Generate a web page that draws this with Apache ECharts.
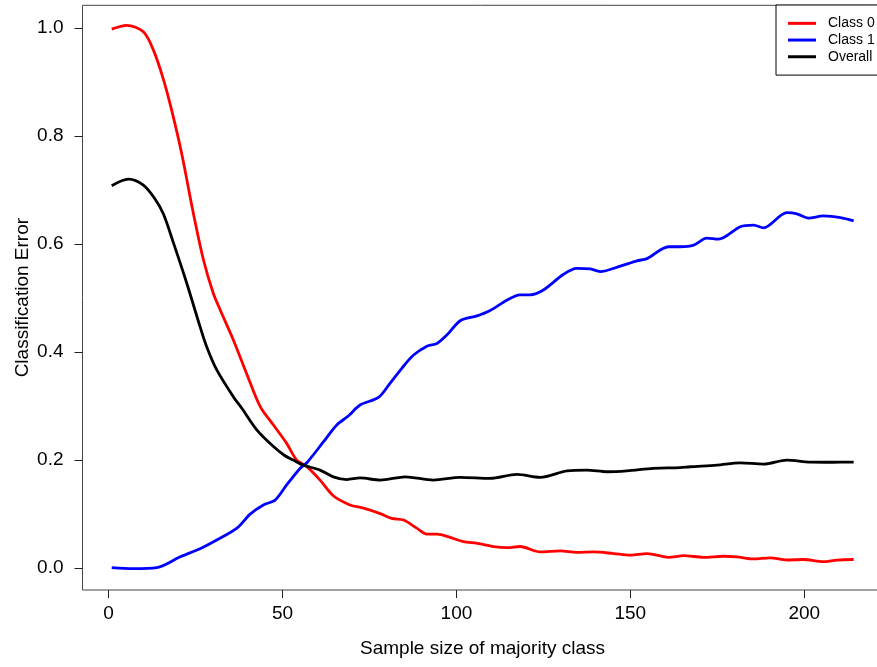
<!DOCTYPE html>
<html>
<head>
<meta charset="utf-8">
<script src="https://cdn.jsdelivr.net/npm/echarts@6/dist/echarts.min.js"></script>
<style>html,body{margin:0;padding:0;background:#fff}#c{width:877px;height:667px}</style>
</head>
<body>
<div id="c"></div>
<script>
const xTicks = [0, 50, 100, 150, 200];
const yTicks = [0, 0.2, 0.4, 0.6, 0.8, 1.0];
const seriesNames = ['Class 0', 'Class 1', 'Overall'];

const class0X = [0.9, 5.2, 10.0, 12.9, 15.8, 18.2, 21.0, 24.4, 27.3, 30.1, 32.1, 35.9, 39.7, 43.6, 47.4, 51.2, 54.1, 57.0, 60.8, 64.6, 69.4, 73.3, 78.1, 81.4, 84.8, 88.6, 91.5, 94.4, 98.2, 102.0, 106.0, 110.7, 114.5, 118.3, 124.1, 129.8, 134.6, 139.4, 145.2, 150.0, 154.8, 161.0, 165.3, 171.0, 176.8, 180.6, 185.4, 190.2, 195.0, 199.8, 205.5, 209.4, 214.2];
const class0Y = [0.998, 1.005, 0.993, 0.959, 0.904, 0.846, 0.768, 0.656, 0.570, 0.509, 0.478, 0.422, 0.360, 0.299, 0.265, 0.231, 0.200, 0.188, 0.163, 0.134, 0.117, 0.111, 0.101, 0.092, 0.089, 0.074, 0.063, 0.063, 0.057, 0.049, 0.046, 0.040, 0.038, 0.040, 0.030, 0.032, 0.029, 0.030, 0.027, 0.024, 0.027, 0.020, 0.023, 0.020, 0.022, 0.021, 0.017, 0.019, 0.015, 0.016, 0.012, 0.015, 0.016];

const class1X = [0.9, 7.1, 13.9, 20.6, 26.3, 31.1, 36.9, 40.7, 44.5, 47.9, 51.2, 55.1, 57.0, 61.8, 65.6, 69.0, 72.3, 77.6, 80.9, 84.3, 87.6, 91.5, 94.4, 97.3, 101.1, 105.9, 109.7, 114.5, 118.3, 121.2, 125.0, 130.8, 134.6, 138.5, 141.3, 147.1, 151.9, 154.8, 161.0, 164.3, 168.2, 172.0, 175.4, 181.6, 185.4, 188.3, 195.0, 197.9, 201.2, 205.5, 210.4, 214.2];
const class1Y = [0.001, -0.001, 0.001, 0.021, 0.036, 0.052, 0.074, 0.100, 0.117, 0.126, 0.154, 0.185, 0.195, 0.234, 0.265, 0.282, 0.302, 0.316, 0.342, 0.370, 0.394, 0.411, 0.416, 0.432, 0.458, 0.467, 0.477, 0.496, 0.506, 0.506, 0.515, 0.544, 0.555, 0.554, 0.549, 0.559, 0.569, 0.573, 0.595, 0.595, 0.598, 0.611, 0.609, 0.632, 0.635, 0.630, 0.658, 0.656, 0.648, 0.652, 0.649, 0.643];

const overallX = [0.9, 5.7, 10.0, 13.4, 15.8, 18.6, 22.5, 26.3, 28.2, 31.1, 35.9, 38.3, 42.6, 47.4, 50.5, 53.1, 56.0, 60.8, 64.6, 68.5, 72.3, 78.1, 85.3, 93.4, 101.1, 109.7, 117.4, 124.1, 131.8, 137.5, 143.3, 149.0, 156.7, 164.3, 167.2, 174.9, 181.6, 188.3, 195.0, 201.7, 208.0, 214.2];
const overallY = [0.708, 0.720, 0.709, 0.683, 0.655, 0.603, 0.527, 0.447, 0.410, 0.367, 0.317, 0.296, 0.256, 0.225, 0.209, 0.200, 0.1907, 0.1815, 0.169, 0.164, 0.167, 0.163, 0.169, 0.163, 0.168, 0.166, 0.1735, 0.168, 0.180, 0.1815, 0.1784, 0.180, 0.1846, 0.186, 0.1877, 0.1907, 0.195, 0.1926, 0.200, 0.1963, 0.196, 0.1963];

const colors = ['#FF0000', '#0000FF', '#000000'];
const pairs = (xs, ys) => xs.map((x, i) => [x, ys[i]]);
const FONT = 'Liberation Sans, Arial, Helvetica, sans-serif';

const chart = echarts.init(document.getElementById('c'), null, {renderer: 'canvas'});
chart.setOption({
  animation: false,
  backgroundColor: '#fff',
  grid: {
    left: 82.5, top: 5.3, width: 800, bottom: 77,
    containLabel: false, outerBoundsMode: 'none',
    show: true, borderColor: '#444', borderWidth: 1, backgroundColor: 'transparent'
  },
  xAxis: {
    type: 'value', min: -7.5, max: 222.5,
    name: 'Sample size of majority class', nameLocation: 'middle', nameGap: 49, nameMoveOverlap: false,
    nameTextStyle: {fontFamily: FONT, fontSize: 19, color: '#000'},
    axisLine: {show: false, onZero: false},
    splitLine: {show: false},
    axisTick: {show: true, length: 8, inside: false, customValues: xTicks, lineStyle: {color: '#222', width: 1}},
    axisLabel: {customValues: xTicks, margin: 14, fontFamily: FONT, fontSize: 19, color: '#000'}
  },
  yAxis: {
    type: 'value', min: -0.0405, max: 1.042,
    name: 'Classification Error', nameLocation: 'middle', nameGap: 50, nameMoveOverlap: false,
    nameTextStyle: {fontFamily: FONT, fontSize: 19, color: '#000'},
    axisLine: {show: false, onZero: false},
    splitLine: {show: false},
    axisTick: {show: true, length: 8, inside: false, customValues: yTicks, lineStyle: {color: '#222', width: 1}},
    axisLabel: {customValues: yTicks, margin: 19, fontFamily: FONT, fontSize: 19, color: '#000',
      formatter: v => Number(v).toFixed(1)}
  },
  legend: {
    orient: 'vertical', left: 776, top: 5,
    padding: [10, 20, 10, 12],
    borderColor: '#000', borderWidth: 1, borderRadius: 0, backgroundColor: '#fff',
    icon: 'rect', itemWidth: 28, itemHeight: 3, itemGap: 0,
    textStyle: {fontFamily: FONT, fontSize: 14, color: '#000', lineHeight: 16.7, padding: [0, 0, 0, 7]},
    data: seriesNames
  },
  series: [
    {name: seriesNames[0], type: 'line', data: pairs(class0X, class0Y), color: colors[0]},
    {name: seriesNames[1], type: 'line', data: pairs(class1X, class1Y), color: colors[1]},
    {name: seriesNames[2], type: 'line', data: pairs(overallX, overallY), color: colors[2]}
  ].map(s => Object.assign(s, {showSymbol: false, smooth: 0.3, lineStyle: {width: 2.8, color: s.color}, itemStyle: {color: s.color}}))
});
</script>
</body>
</html>
